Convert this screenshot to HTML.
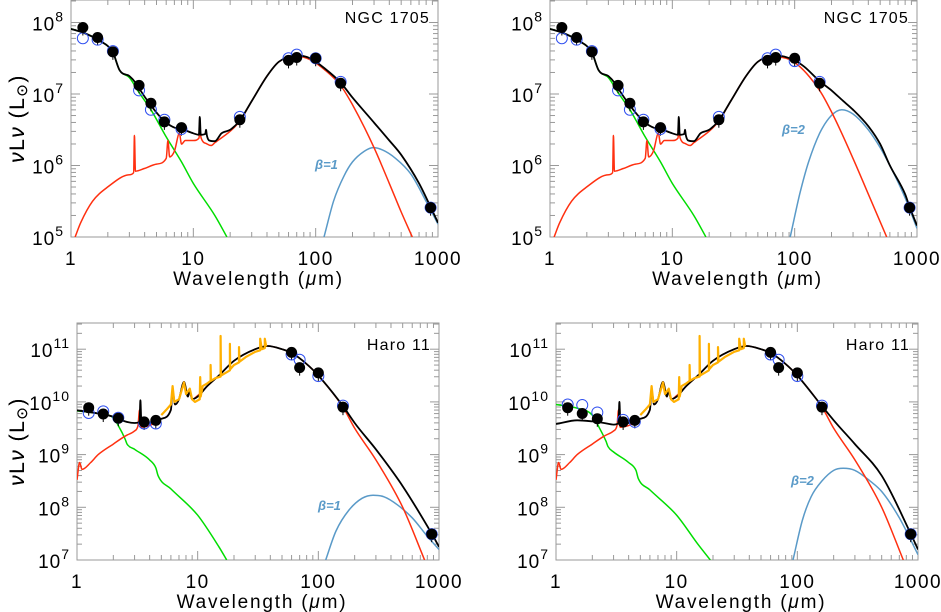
<!DOCTYPE html>
<html><head><meta charset="utf-8">
<style>
html,body{margin:0;padding:0;background:#fff;}
svg{display:block;font-family:"Liberation Sans",sans-serif;}
</style></head>
<body>
<svg id="fig" width="941" height="612" viewBox="0 0 941 612" xmlns="http://www.w3.org/2000/svg"></svg>
<script>
// ---------- DATA (wavelength in micron, log10 nuLnu in Lsun) ----------
const obsWave = [1.25,1.65,2.2,3.6,4.5,5.8,8,24,60,70,100,160,870];
const ngcObs = [7.93,7.79,7.59,7.12,6.87,6.61,6.53,6.64,7.47,7.51,7.50,7.15,5.41];
const ngcMod1 = [7.78,7.76,7.60,7.05,6.78,6.64,6.51,6.68,7.50,7.55,7.50,7.17,5.41];
const ngcMod2 = [7.78,7.76,7.60,7.05,6.78,6.64,6.51,6.68,7.50,7.55,7.46,7.17,5.41];
const haroWave = [1.25,1.65,2.2,3.6,4.5,60,70,100,160,870];
const haroObs1 = [9.89,9.77,9.69,9.62,9.65,10.94,10.65,10.55,9.90,7.49];
const haroMod1 = [9.79,9.82,9.70,9.59,9.59,10.90,10.80,10.49,9.93,7.49];
const haroObs2 = [9.89,9.78,9.68,9.62,9.65,10.94,10.65,10.55,9.90,7.49];
const haroMod2 = [9.95,9.94,9.80,9.66,9.62,10.90,10.80,10.49,9.93,7.49];

const ngcTotalA = [[1,7.91],[1.25,7.86],[1.65,7.76],[2.2,7.58],[2.5,7.33],[3,7.25],[3.4,7.15],[3.6,7.08],[4.5,6.84],[5.8,6.62],[7,6.53],[8,6.51],[10,6.45],[11.1,6.43],[11.3,6.68],[11.5,6.43],[12.5,6.44],[12.7,6.50],[12.9,6.42],[13.5,6.35],[15,6.34],[17,6.45],[20,6.50],[24,6.63],[30,6.90],[40,7.25],[50,7.45],[70,7.54],[90,7.50],[120,7.35],[160,7.16],[200,6.95],[300,6.60],[400,6.35],[500,6.15],[700,5.75],[870,5.42],[1000,5.20]];
const ngcTotalB = [[1,7.91],[1.25,7.86],[1.65,7.76],[2.2,7.58],[2.5,7.33],[3,7.25],[3.4,7.15],[3.6,7.08],[4.5,6.84],[5.8,6.62],[7,6.53],[8,6.51],[10,6.45],[11.1,6.43],[11.3,6.68],[11.5,6.43],[12.5,6.44],[12.7,6.50],[12.9,6.42],[13.5,6.35],[15,6.34],[17,6.45],[20,6.50],[24,6.63],[30,6.90],[40,7.25],[50,7.45],[70,7.54],[100,7.47],[120,7.38],[160,7.18],[200,7.05],[250,6.90],[300,6.78],[400,6.55],[500,6.30],[600,6.00],[800,5.60],[870,5.42],[1000,5.16]];
const ngcDustA = [[1.08,5.0],[1.2,5.2],[1.5,5.5],[2,5.7],[3,5.87],[3.25,5.9],[3.3,6.42],[3.36,5.92],[4,5.96],[5,6.02],[6,6.1],[6.2,6.35],[6.4,6.12],[7,6.2],[7.7,6.45],[8,6.3],[8.6,6.35],[10,6.35],[11.1,6.38],[11.3,6.47],[11.6,6.38],[13,6.30],[14,6.28],[15,6.32],[20,6.48],[24,6.62],[30,6.90],[40,7.25],[50,7.45],[70,7.53],[90,7.48],[120,7.33],[160,7.12],[200,6.85],[300,6.25],[400,5.75],[500,5.35],[616,5.0]];
const ngcDustB = [[1.08,5.0],[1.2,5.2],[1.5,5.5],[2,5.7],[3,5.87],[3.25,5.9],[3.3,6.42],[3.36,5.92],[4,5.96],[5,6.02],[6,6.1],[6.2,6.35],[6.4,6.12],[7,6.2],[7.7,6.45],[8,6.3],[8.6,6.35],[10,6.35],[11.1,6.38],[11.3,6.47],[11.6,6.38],[13,6.30],[14,6.28],[15,6.32],[20,6.48],[24,6.62],[30,6.90],[40,7.25],[50,7.45],[70,7.52],[100,7.44],[160,7.05],[200,6.75],[300,6.10],[400,5.60],[565,5.0]];
const ngcStars = [[1,7.91],[1.25,7.86],[1.65,7.76],[2.2,7.58],[2.5,7.33],[3,7.23],[3.6,7.02],[4.5,6.78],[6,6.40],[8,6.05],[10,5.75],[15,5.30],[18.8,5.0]];
const ngcCold1 = [[117,5.0],[140,5.5],[170,5.85],[200,6.05],[250,6.2],[295,6.25],[350,6.22],[450,6.1],[600,5.88],[800,5.5],[1000,5.18]];
const ngcCold2 = [[92,5.0],[110,5.6],[130,6.05],[160,6.45],[200,6.7],[243,6.78],[300,6.72],[400,6.5],[500,6.25],[600,6.0],[800,5.55],[1000,5.12]];

const haroTotalA = [[1,9.84],[1.5,9.78],[2,9.72],[2.5,9.63],[3,9.6],[3.3,9.62],[3.35,10.03],[3.42,9.6],[4,9.6],[5,9.68],[6,9.85],[6.2,10.2],[6.5,9.95],[7,10.05],[7.7,10.38],[8.3,10.1],[8.6,10.2],[9,10.05],[10,10.1],[12,10.3],[15,10.5],[20,10.78],[30,11.0],[38,11.06],[50,11.0],[60,10.93],[80,10.72],[100,10.5],[160,9.92],[200,9.6],[300,9.1],[500,8.4],[870,7.5],[1000,7.25]];
const haroTotalB = [[1,9.58],[1.5,9.65],[2,9.63],[2.5,9.6],[3,9.57],[3.3,9.6],[3.35,10.0],[3.42,9.6],[4,9.6],[5,9.68],[6,9.85],[6.2,10.2],[6.5,9.95],[7,10.05],[7.7,10.38],[8.3,10.1],[8.6,10.2],[9,10.05],[10,10.1],[12,10.3],[15,10.5],[20,10.78],[30,11.0],[38,11.06],[50,11.0],[60,10.93],[80,10.72],[100,10.5],[160,9.92],[200,9.65],[300,9.2],[500,8.6],[870,7.5],[1000,7.2]];
const haroDustA = [[1,8.52],[1.05,8.85],[1.1,8.72],[1.3,8.85],[1.5,9.0],[2,9.2],[2.5,9.35],[3,9.45],[3.2,9.55],[3.3,9.85],[3.4,9.52],[4,9.55],[5,9.68],[6,9.85],[6.2,10.2],[6.5,9.95],[7,10.05],[7.7,10.38],[8.3,10.1],[8.6,10.2],[9,10.05],[10,10.12],[12,10.3],[15,10.5],[20,10.78],[30,11.0],[38,11.06],[50,11.0],[60,10.93],[80,10.72],[100,10.5],[160,9.9],[200,9.5],[300,8.9],[500,8.0],[760,7.0]];
const haroDustB = [[1,8.52],[1.05,8.85],[1.1,8.72],[1.3,8.85],[1.5,9.0],[2,9.2],[2.5,9.35],[3,9.45],[3.2,9.55],[3.3,9.85],[3.4,9.52],[4,9.55],[5,9.68],[6,9.85],[6.2,10.2],[6.5,9.95],[7,10.05],[7.7,10.38],[8.3,10.1],[8.6,10.2],[9,10.05],[10,10.12],[12,10.3],[15,10.5],[20,10.78],[30,11.0],[38,11.06],[50,11.0],[60,10.93],[80,10.72],[100,10.5],[160,9.9],[200,9.5],[300,8.9],[500,8.0],[755,7.0]];
const haroStarsA = [[1,9.83],[1.5,9.78],[2,9.7],[2.2,9.55],[2.5,9.3],[2.6,9.2],[3,9.1],[4,8.9],[4.5,8.75],[4.7,8.6],[6,8.35],[10,7.85],[15,7.25],[17.4,7.0]];
const haroStarsB = [[1,9.95],[1.5,9.88],[2,9.75],[2.3,9.5],[2.6,9.25],[2.7,9.15],[3,9.05],[4,8.85],[4.6,8.7],[4.8,8.55],[6,8.33],[10,7.85],[15,7.3],[19,7.0]];
const haroCold1 = [[115,7.0],[140,7.55],[180,7.95],[230,8.17],[284,8.23],[350,8.2],[450,8.05],[600,7.8],[800,7.45],[1000,7.2]];
const haroCold2 = [[92,7.0],[110,7.75],[130,8.2],[160,8.5],[200,8.7],[240,8.74],[300,8.7],[400,8.5],[500,8.3],[700,7.8],[1000,7.1]];
const haroIRS = [[5,9.75],[5.5,9.85],[6,9.95],[6.2,10.3],[6.4,10.0],[7,10.05],[7.7,10.37],[8,10.15],[8.6,10.25],[9,10.05],[9.5,10.0],[10.4,10.05],[10.5,10.47],[10.6,10.1],[11,10.3],[12,10.35],[12.8,10.4],[12.8,10.7],[12.9,10.4],[14,10.45],[15.5,10.48],[15.5,11.25],[15.6,10.5],[17,10.55],[18.5,10.6],[18.5,11.1],[18.6,10.62],[20,10.7],[22,10.75],[22,11.04],[22.2,10.76],[25,10.85],[30,10.95],[33,10.98],[33,11.2],[34,11.0],[36,11.02],[36,11.2],[37,11.05]];

// ---------- DRAW ----------
const NS='http://www.w3.org/2000/svg';
const svg=document.getElementById('fig');
function mk(tag,attrs,parent){const e=document.createElementNS(NS,tag);for(const k in attrs)e.setAttribute(k,attrs[k]);(parent||svg).appendChild(e);return e;}

// monotone cubic path through screen points
function smoothPath(pts){
  const n=pts.length; if(n<3) return pts.map((q,i)=>(i?'L':'M')+q[0]+','+q[1]).join('');
  const dx=[],s=[];for(let i=0;i<n-1;i++){dx.push(pts[i+1][0]-pts[i][0]);s.push((pts[i+1][1]-pts[i][1])/Math.max(dx[i],0.01));}
  const m=[s[0]];for(let i=1;i<n-1;i++){m.push(s[i-1]*s[i]<=0?0:(s[i-1]+s[i])/2);}m.push(s[n-2]);
  for(let i=0;i<n-1;i++){if(s[i]===0){m[i]=0;m[i+1]=0;continue;}const a=m[i]/s[i],b=m[i+1]/s[i],h=a*a+b*b;if(h>9){const t=3/Math.sqrt(h);m[i]=t*a*s[i];m[i+1]=t*b*s[i];}}
  let d='M'+pts[0][0].toFixed(1)+','+pts[0][1].toFixed(1);
  for(let i=0;i<n-1;i++){const h=dx[i]/3;
    d+='C'+(pts[i][0]+h).toFixed(1)+','+(pts[i][1]+m[i]*h).toFixed(1)+' '+(pts[i+1][0]-h).toFixed(1)+','+(pts[i+1][1]-m[i+1]*h).toFixed(1)+' '+pts[i+1][0].toFixed(1)+','+pts[i+1][1].toFixed(1);}
  return d;
}

function panel(p){
  const g=mk('g',{});
  
  
  const X=w=>p.x0+(Math.log10(w))*(p.x1-p.x0)/3;
  const Y=v=>p.y1-(v-p.ymin)*p.dec;
  const clip='c'+p.name;
  const cp=mk('clipPath',{id:clip},g);mk('rect',{x:p.x0,y:p.y0,width:p.x1-p.x0,height:p.y1-p.y0},cp);
  const tg=mk('g',{stroke:'#999','stroke-width':1},g);
  for(let d=0;d<3;d++)for(let m=1;m<=9;m++){const xx=X(Math.pow(10,d)*m);const L=m===1?9:5;
    if(m>1||d>0){mk('line',{x1:xx,y1:p.y1,x2:xx,y2:p.y1-L},tg);mk('line',{x1:xx,y1:p.y0,x2:xx,y2:p.y0+L},tg);}}
  for(let e=Math.floor(p.ymin);e<=p.ymax;e++)for(let m=1;m<=9;m++){const v=e+Math.log10(m);if(v<p.ymin||v>p.ymax)continue;const yy=Y(v);const L=m===1?9:5;
    mk('line',{x1:p.x0,y1:yy,x2:p.x0+L,y2:yy},tg);mk('line',{x1:p.x1,y1:yy,x2:p.x1-L,y2:yy},tg);}
  mk('rect',{x:p.x0,y:p.y0,width:p.x1-p.x0,height:p.y1-p.y0,fill:'none',stroke:'#999','stroke-width':1},g);
  ['1','10','100','1000'].forEach((t,i)=>{const tx=mk('text',{x:X(Math.pow(10,i)),y:p.y1+28,'font-size':19,'text-anchor':'middle','letter-spacing':'1.5',fill:'#000'},g);tx.textContent=t;
    });
  for(let e=Math.ceil(p.ymin);e<=p.ymax;e++){const tx=mk('text',{x:p.x0-7,y:Y(e)+8,'font-size':19,'text-anchor':'end','letter-spacing':'1',fill:'#000'},g);
    tx.innerHTML='10<tspan font-size="14" dy="-9">'+e+'</tspan>';
    }
  const xt=mk('text',{x:(p.x0+p.x1)/2+4,y:p.y1+48,'font-size':19,'text-anchor':'middle','letter-spacing':'1.8'},g);
  xt.innerHTML='Wavelength  (<tspan font-style="italic">μ</tspan>m)';
  
  const cy=(p.y0+p.y1)/2;
  const yt=mk('text',{x:0,y:0,'font-size':21,'text-anchor':'middle','letter-spacing':'1.5',transform:'translate(24,'+cy+') rotate(-90)'},g);
  yt.innerHTML='<tspan font-style="italic">ν</tspan>L<tspan font-style="italic">ν</tspan>  (L<tspan font-size="15" dy="3">⊙</tspan><tspan dy="-3">)</tspan>';
  
  const cg=mk('g',{'clip-path':'url(#'+clip+')',fill:'none','stroke-linejoin':'round'},g);
  p.curves.forEach(c=>{const pts=c.data.map(q=>[X(q[0]),Y(q[1])]);
    const d=c.linear?pts.map((q,i)=>(i?'L':'M')+q[0].toFixed(1)+','+q[1].toFixed(1)).join(''):smoothPath(pts);
    const pa=mk('path',{d:d,stroke:c.color,'stroke-width':c.w},cg);
    });
  p.obsW.forEach((w,i)=>{
    mk('line',{x1:X(w),x2:X(w),y1:Y(p.obs[i])-4,y2:Y(p.obs[i])+8,stroke:'#000','stroke-width':1},g);
    const o=mk('circle',{cx:X(w),cy:Y(p.mod[i]),r:5.5,fill:'none',stroke:'#3050f0','stroke-width':1},g);
    
  });
  p.obsW.forEach((w,i)=>{
    const c=mk('circle',{cx:X(w),cy:Y(p.obs[i]),r:5.5,fill:'#000'},g);
    
  });
  const lb=mk('text',{x:p.x1-8,y:p.y0+p.labY,'font-size':16,'text-anchor':'end','letter-spacing':'1.2'},g);lb.textContent=p.title;
  
  const bt=mk('text',{x:p.betaX,y:p.betaY,'font-size':13,'font-weight':'bold','font-style':'italic',fill:'#5a9ac8'},g);bt.textContent=p.beta;
  
}

panel({name:'panel-ngc1705-beta1',x0:71,x1:438,y0:0,y1:237,ymin:5,ymax:8.32,dec:71.5,obsW:obsWave,obs:ngcObs,mod:ngcMod1,title:'NGC 1705',labY:23,beta:'β=1',betaX:315,betaY:169,
  curves:[{name:'stellar-curve',data:ngcStars,color:'#00dd00',w:1.5},{name:'cold-dust-curve',data:ngcCold1,color:'#5a9ac8',w:1.5},{name:'dust-curve',data:ngcDustA,color:'#ff3010',w:1.5},{name:'total-curve',data:ngcTotalA,color:'#000',w:1.8}]});
panel({name:'panel-ngc1705-beta2',x0:550,x1:917,y0:0,y1:237,ymin:5,ymax:8.32,dec:71.5,obsW:obsWave,obs:ngcObs,mod:ngcMod2,title:'NGC 1705',labY:23,beta:'β=2',betaX:782,betaY:134,
  curves:[{name:'stellar-curve',data:ngcStars,color:'#00dd00',w:1.5},{name:'cold-dust-curve',data:ngcCold2,color:'#5a9ac8',w:1.5},{name:'dust-curve',data:ngcDustB,color:'#ff3010',w:1.5},{name:'total-curve',data:ngcTotalB,color:'#000',w:1.8}]});
panel({name:'panel-haro11-beta1',x0:77,x1:439,y0:323,y1:560,ymin:7,ymax:11.49,dec:52.7,obsW:haroWave,obs:haroObs1,mod:haroMod1,title:'Haro 11',labY:27,beta:'β=1',betaX:318,betaY:510,
  curves:[{name:'stellar-curve',data:haroStarsA,color:'#00dd00',w:1.5},{name:'cold-dust-curve',data:haroCold1,color:'#5a9ac8',w:1.5},{name:'dust-curve',data:haroDustA,color:'#ff3010',w:1.5},{name:'total-curve',data:haroTotalA,color:'#000',w:1.8},{name:'irs-spectrum',data:haroIRS,color:'#ffb000',w:2.2,linear:true}]});
panel({name:'panel-haro11-beta2',x0:556,x1:918,y0:323,y1:560,ymin:7,ymax:11.49,dec:52.7,obsW:haroWave,obs:haroObs2,mod:haroMod2,title:'Haro 11',labY:27,beta:'β=2',betaX:791,betaY:485,
  curves:[{name:'stellar-curve',data:haroStarsB,color:'#00dd00',w:1.5},{name:'cold-dust-curve',data:haroCold2,color:'#5a9ac8',w:1.5},{name:'dust-curve',data:haroDustB,color:'#ff3010',w:1.5},{name:'total-curve',data:haroTotalB,color:'#000',w:1.8},{name:'irs-spectrum',data:haroIRS,color:'#ffb000',w:2.2,linear:true}]});
</script>
</body></html>
